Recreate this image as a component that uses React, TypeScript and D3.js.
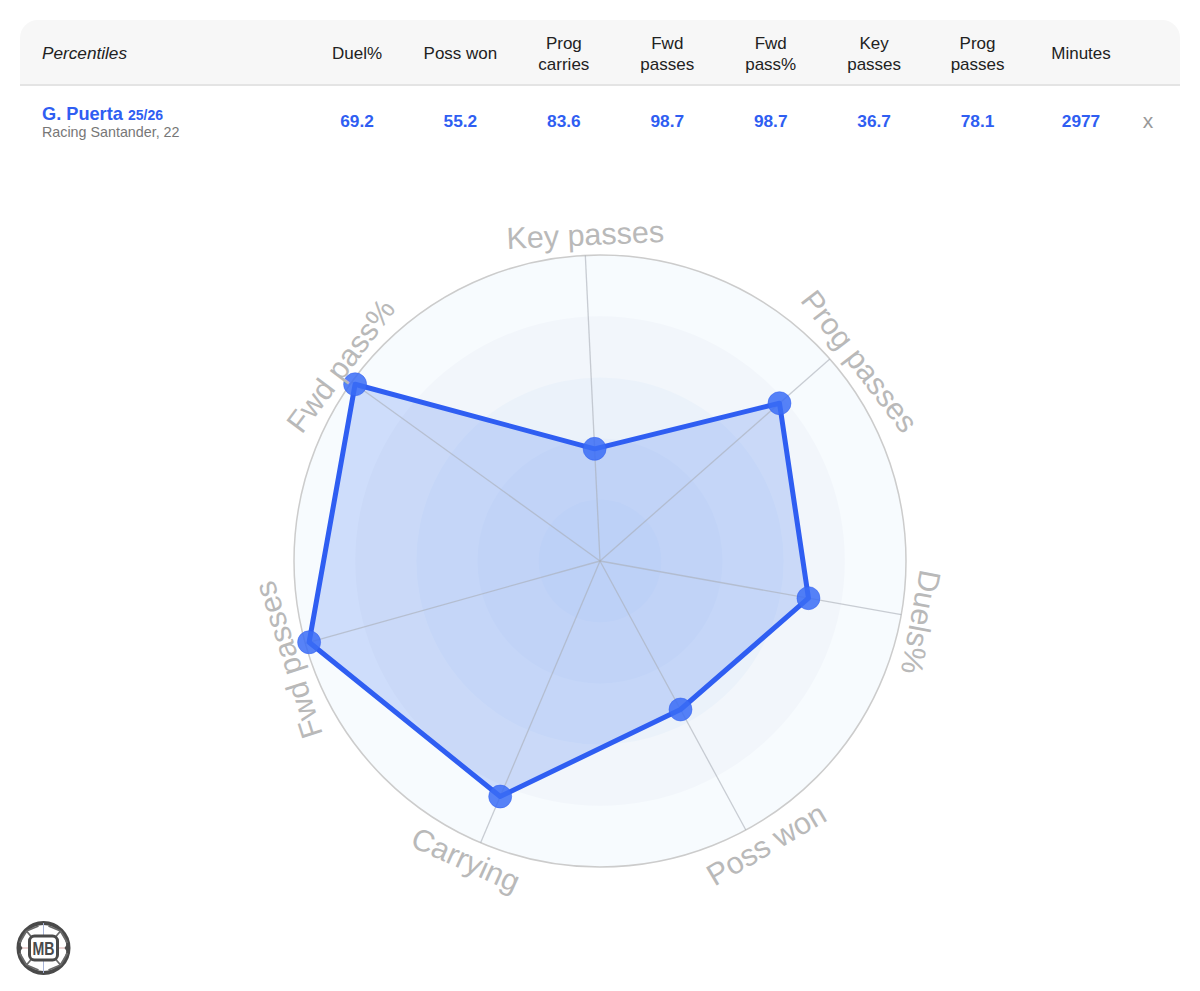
import React from "react";
import * as d3 from "d3";

const axisLabels = ["Key passes", "Prog passes", "Duels%", "Poss won", "Carrying", "Fwd passes", "Fwd pass%"];
const percentiles = [36.7, 78.1, 69.2, 55.2, 83.6, 98.7, 98.7];
const invertedLabels = ["Poss won", "Carrying"];
const ringLevels = [100, 80, 60, 40, 20];
const ringFills = ["#f7fbfe", "#f2f6fb", "#ebf2fa", "#e6eef9", "#e1ebf9"];
const labelAngles = [-2.6, 52.4, 100.8, 149.6, 204.2, 252.4, 307];
const labelRadii = [316, 317, 316, 339, 338, 316.5, 314];

const headerLabels = [["Duel%"], ["Poss won"], ["Prog", "carries"], ["Fwd", "passes"], ["Fwd", "pass%"], ["Key", "passes"], ["Prog", "passes"], ["Minutes"]];
const rowValues = ["69.2", "55.2", "83.6", "98.7", "98.7", "36.7", "78.1", "2977"];

const FONT = "'Liberation Sans', Arial, sans-serif";
const BLUE = "#2f5ef2";
const CX = 600, CY = 561, R = 306;
const startAngle = -2.75 * Math.PI / 180;

const rScale = d3.scaleLinear().domain([0, 100]).range([0, R]);
const angle = d3.scaleLinear().domain([0, axisLabels.length]).range([startAngle, startAngle + 2 * Math.PI]);
const colX = d3.scaleLinear().domain([0, 7]).range([357, 1081]);

const polar = (a: number, r: number): [number, number] => [Math.sin(a) * r, -Math.cos(a) * r];

export default function App() {
  const radial = d3.lineRadial<number>()
    .angle((_, i) => angle(i))
    .radius((d) => rScale(d))
    .curve(d3.curveLinearClosed);

  return (
    <svg width={1200} height={991} viewBox="0 0 1200 991" style={{ position: "absolute", left: 0, top: 0, background: "#fff" }} fontFamily={FONT}>
      {/* table header */}
      <path d="M20 85V38a18 18 0 0 1 18-18H1162a18 18 0 0 1 18 18V85Z" fill="#f7f7f7" />
      <rect x={20} y={84} width={1160} height={2} fill="#e4e4e4" />
      <text x={42} y={59} fontSize={17.2} fontStyle="italic" fill="#222">Percentiles</text>
      {headerLabels.map((lines, i) => (
        <g key={i} textAnchor="middle" fontSize={17} fill="#222">
          {lines.length === 1
            ? <text x={colX(i)} y={59}>{lines[0]}</text>
            : lines.map((l, j) => <text key={j} x={colX(i)} y={49 + j * 21}>{l}</text>)}
        </g>
      ))}
      <text x={42} y={120} fontSize={18.2} fontWeight="bold" fill={BLUE}>G. Puerta <tspan fontSize={14}>25/26</tspan></text>
      <text x={42} y={136.5} fontSize={14.3} fill="#777">Racing Santander, 22</text>
      {rowValues.map((v, i) => (
        <text key={i} x={colX(i)} y={127} textAnchor="middle" fontSize={17.3} fontWeight="bold" fill={BLUE}>{v}</text>
      ))}
      <text x={1148} y={128} textAnchor="middle" fontSize={21} fill="#999">x</text>

      {/* radar */}
      <g transform={`translate(${CX},${CY})`}>
        {ringLevels.map((lv, i) => (
          <circle key={lv} r={rScale(lv)} fill={ringFills[i]} stroke={i === 0 ? "#cccccc" : "none"} strokeWidth={1.5} />
        ))}
        <path d={radial(percentiles) ?? ""} fill="#2f6af2" fillOpacity={0.2} />
        {axisLabels.map((_, i) => {
          const [x, y] = polar(angle(i), R);
          return <line key={i} x1={0} y1={0} x2={x} y2={y} stroke="#a9adb5" strokeOpacity={0.6} strokeWidth={1.3} />;
        })}
        <path d={radial(percentiles) ?? ""} fill="none" stroke={BLUE} strokeWidth={5} strokeLinejoin="round" />
        {percentiles.map((v, i) => {
          const [x, y] = polar(angle(i), rScale(v));
          return <circle key={i} cx={x} cy={y} r={11.5} fill="#3a6cf6" fillOpacity={0.85} stroke={BLUE} strokeOpacity={0.5} strokeWidth={1} />;
        })}
        {axisLabels.map((l, i) => {
          const inverted = invertedLabels.includes(l);
          const t = inverted
            ? `rotate(${labelAngles[i] + 180}) translate(0,${labelRadii[i]})`
            : `rotate(${labelAngles[i]}) translate(0,${-labelRadii[i]})`;
          return <text key={l} transform={t} textAnchor="middle" fontSize={30.5} fill="#b9b9b9">{l}</text>;
        })}
      </g>

      {/* MB badge */}
      <g transform="translate(43.5,948)">
        <circle r={25} fill="#fff" stroke="#4a4a4a" strokeWidth={4} />
        <line x1={0} y1={-25} x2={0} y2={25} stroke="#a8b4d8" strokeWidth={1} />
        <line x1={-25} y1={0} x2={25} y2={0} stroke="#d8a8a8" strokeWidth={1} />
        {[[-1, -1], [1, -1], [-1, 1], [1, 1]].map(([sx, sy], i) => (
          <g key={i} fill="none" stroke="#6a6a6a" strokeWidth={1.8}>
            <path d={`M${sx * 12} ${sy * 11}L${sx * 17} ${sy * 17}`} />
            <path d={`M${sx * 17} ${sy * 17}L${sx * 24} ${sy * 5}`} />
            <path d={`M${sx * 17} ${sy * 17}L${sx * 5} ${sy * 22}`} />
          </g>
        ))}
        <path d="M-25 -6L-21 0L-25 6A25 25 0 0 1 -25 -6Z" fill="#4a4a4a" />
        <path d="M25 -6L21 0L25 6A25 25 0 0 0 25 -6Z" fill="#4a4a4a" />
        <rect x={-14} y={-12} width={28} height={24} rx={5} fill="#fff" stroke="#4a4a4a" strokeWidth={3} />
        <text x={0} y={7} textAnchor="middle" fontSize={19} fontWeight="bold" fill="#4a4a4a" textLength={22} lengthAdjust="spacingAndGlyphs">MB</text>
      </g>
    </svg>
  );
}
